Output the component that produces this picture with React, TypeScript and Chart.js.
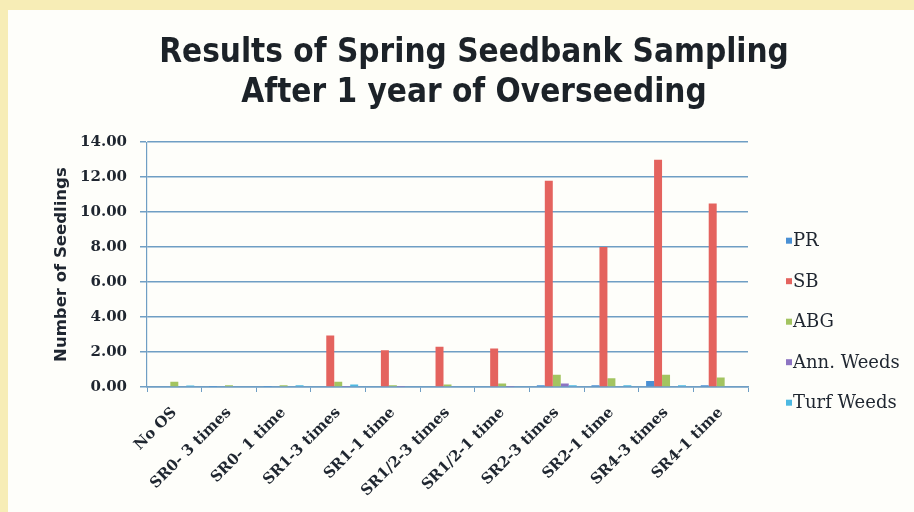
import React, { useEffect, useRef } from "react";
import { Chart, registerables } from "chart.js";

Chart.register(...registerables);

const categories = [
  "No OS",
  "SR0- 3 times",
  "SR0- 1 time",
  "SR1-3 times",
  "SR1-1 time",
  "SR1/2-3 times",
  "SR1/2-1 time",
  "SR2-3 times",
  "SR2-1 time",
  "SR4-3 times",
  "SR4-1 time",
];

const seriesNames = ["PR", "SB", "ABG", "Ann. Weeds", "Turf Weeds"];

const prValues = [0.05, 0.02, 0.02, 0.05, 0.05, 0.05, 0.05, 0.1, 0.1, 0.35, 0.1];
const sbValues = [0, 0, 0, 2.95, 2.1, 2.3, 2.2, 11.8, 8.0, 13.0, 10.5];
const abgValues = [0.3, 0.1, 0.1, 0.3, 0.1, 0.15, 0.2, 0.7, 0.5, 0.7, 0.55];
const annWeedValues = [0, 0, 0, 0.02, 0.02, 0.05, 0.02, 0.2, 0.05, 0.05, 0.05];
const turfWeedValues = [0.08, 0.05, 0.1, 0.15, 0.05, 0.05, 0.05, 0.1, 0.1, 0.1, 0.05];

const yTickValues = [0, 2, 4, 6, 8, 10, 12, 14];

const titleLines = ["Results of Spring Seedbank Sampling", "After 1 year of Overseeding"];
const yAxisTitle = "Number of Seedlings";

const seriesColors = ["#4A90D4", "#E4635E", "#A3C460", "#8D74C2", "#4DB9E2"];

const TEXT = "#1f2630";
const GRID = "#6F9EC4";

const sideLegend = {
  id: "sideLegend",
  afterDraw(chart: any) {
    const { ctx, chartArea } = chart;
    ctx.save();
    ctx.font = "18px 'DejaVu Serif', serif";
    ctx.textBaseline = "middle";
    ctx.textAlign = "left";
    chart.data.datasets.forEach((ds: any, i: number) => {
      const y = chartArea.top + 98.5 + i * 40.5;
      const x = chartArea.right + 38;
      ctx.fillStyle = ds.backgroundColor;
      ctx.fillRect(x, y - 3, 6, 6);
      ctx.fillStyle = TEXT;
      ctx.fillText(ds.label, x + 7, y + 1);
    });
    ctx.restore();
  },
};

export default function App() {
  const canvasRef = useRef<HTMLCanvasElement | null>(null);

  useEffect(() => {
    if (!canvasRef.current) return;
    const seriesValues = [prValues, sbValues, abgValues, annWeedValues, turfWeedValues];
    const chart = new Chart(canvasRef.current, {
      type: "bar",
      data: {
        labels: categories,
        datasets: seriesNames.map((name, i) => ({
          label: name,
          data: seriesValues[i],
          backgroundColor: seriesColors[i],
          borderWidth: 0,
          categoryPercentage: 0.73,
          barPercentage: 1,
        })),
      },
      options: {
        responsive: false,
        animation: false,
        layout: { padding: { left: 26, right: 0, top: 0, bottom: 0 } },
        plugins: {
          legend: { display: false },
          tooltip: { enabled: false },
          title: {
            display: true,
            text: titleLines,
            color: "#1c2228",
            font: {
              family: "'DejaVu Sans Condensed', 'Liberation Sans Narrow', 'DejaVu Sans', sans-serif",
              size: 33,
              weight: "bold",
              lineHeight: 1.2,
            },
            padding: { top: 24, bottom: 29 },
          },
        },
        scales: {
          x: {
            grid: {
              display: true,
              drawOnChartArea: false,
              drawTicks: true,
              tickLength: 5,
              color: GRID,
              offset: true,
            },
            border: { display: true, color: GRID, width: 1.5 },
            ticks: {
              color: TEXT,
              minRotation: 45,
              maxRotation: 45,
              autoSkip: false,
              padding: 12,
              font: { family: "'DejaVu Serif', serif", size: 15, weight: "bold" },
            },
            afterFit(s: any) {
              s.height = 125;
            },
          },
          y: {
            min: 0,
            max: 14,
            afterBuildTicks(s: any) {
              s.ticks = yTickValues.map((v) => ({ value: v }));
            },
            grid: {
              color: GRID,
              lineWidth: 1.5,
              tickLength: 7,
              drawTicks: true,
            },
            border: { display: true, color: GRID, width: 1.2 },
            ticks: {
              color: TEXT,
              padding: 13,
              font: { family: "'DejaVu Serif', serif", size: 15, weight: "bold" },
              callback: (v: any) => Number(v).toFixed(2),
            },
            title: {
              display: true,
              text: yAxisTitle,
              color: TEXT,
              font: { family: "'DejaVu Sans', sans-serif", size: 16.5, weight: "bold" },
              padding: { top: 18, bottom: 0 },
            },
            afterFit(s: any) {
              s.width = 113;
            },
          },
          yRight: {
            type: "linear",
            position: "right",
            display: true,
            grid: { display: false, drawTicks: false },
            border: { display: false },
            ticks: { display: false },
            afterFit(s: any) {
              s.width = 166;
            },
          },
        },
      },
      plugins: [sideLegend],
    } as any);
    return () => chart.destroy();
  }, []);

  return (
    <div
      style={{
        position: "fixed",
        left: 0,
        top: 0,
        width: 914,
        height: 512,
        background: "#F7EDB6",
        overflow: "hidden",
      }}
    >
      <div
        style={{
          position: "absolute",
          left: 8,
          top: 10,
          width: 906,
          height: 502,
          background: "#FEFEFA",
        }}
      >
        <canvas ref={canvasRef} width={906} height={502} style={{ display: "block" }} />
      </div>
    </div>
  );
}
